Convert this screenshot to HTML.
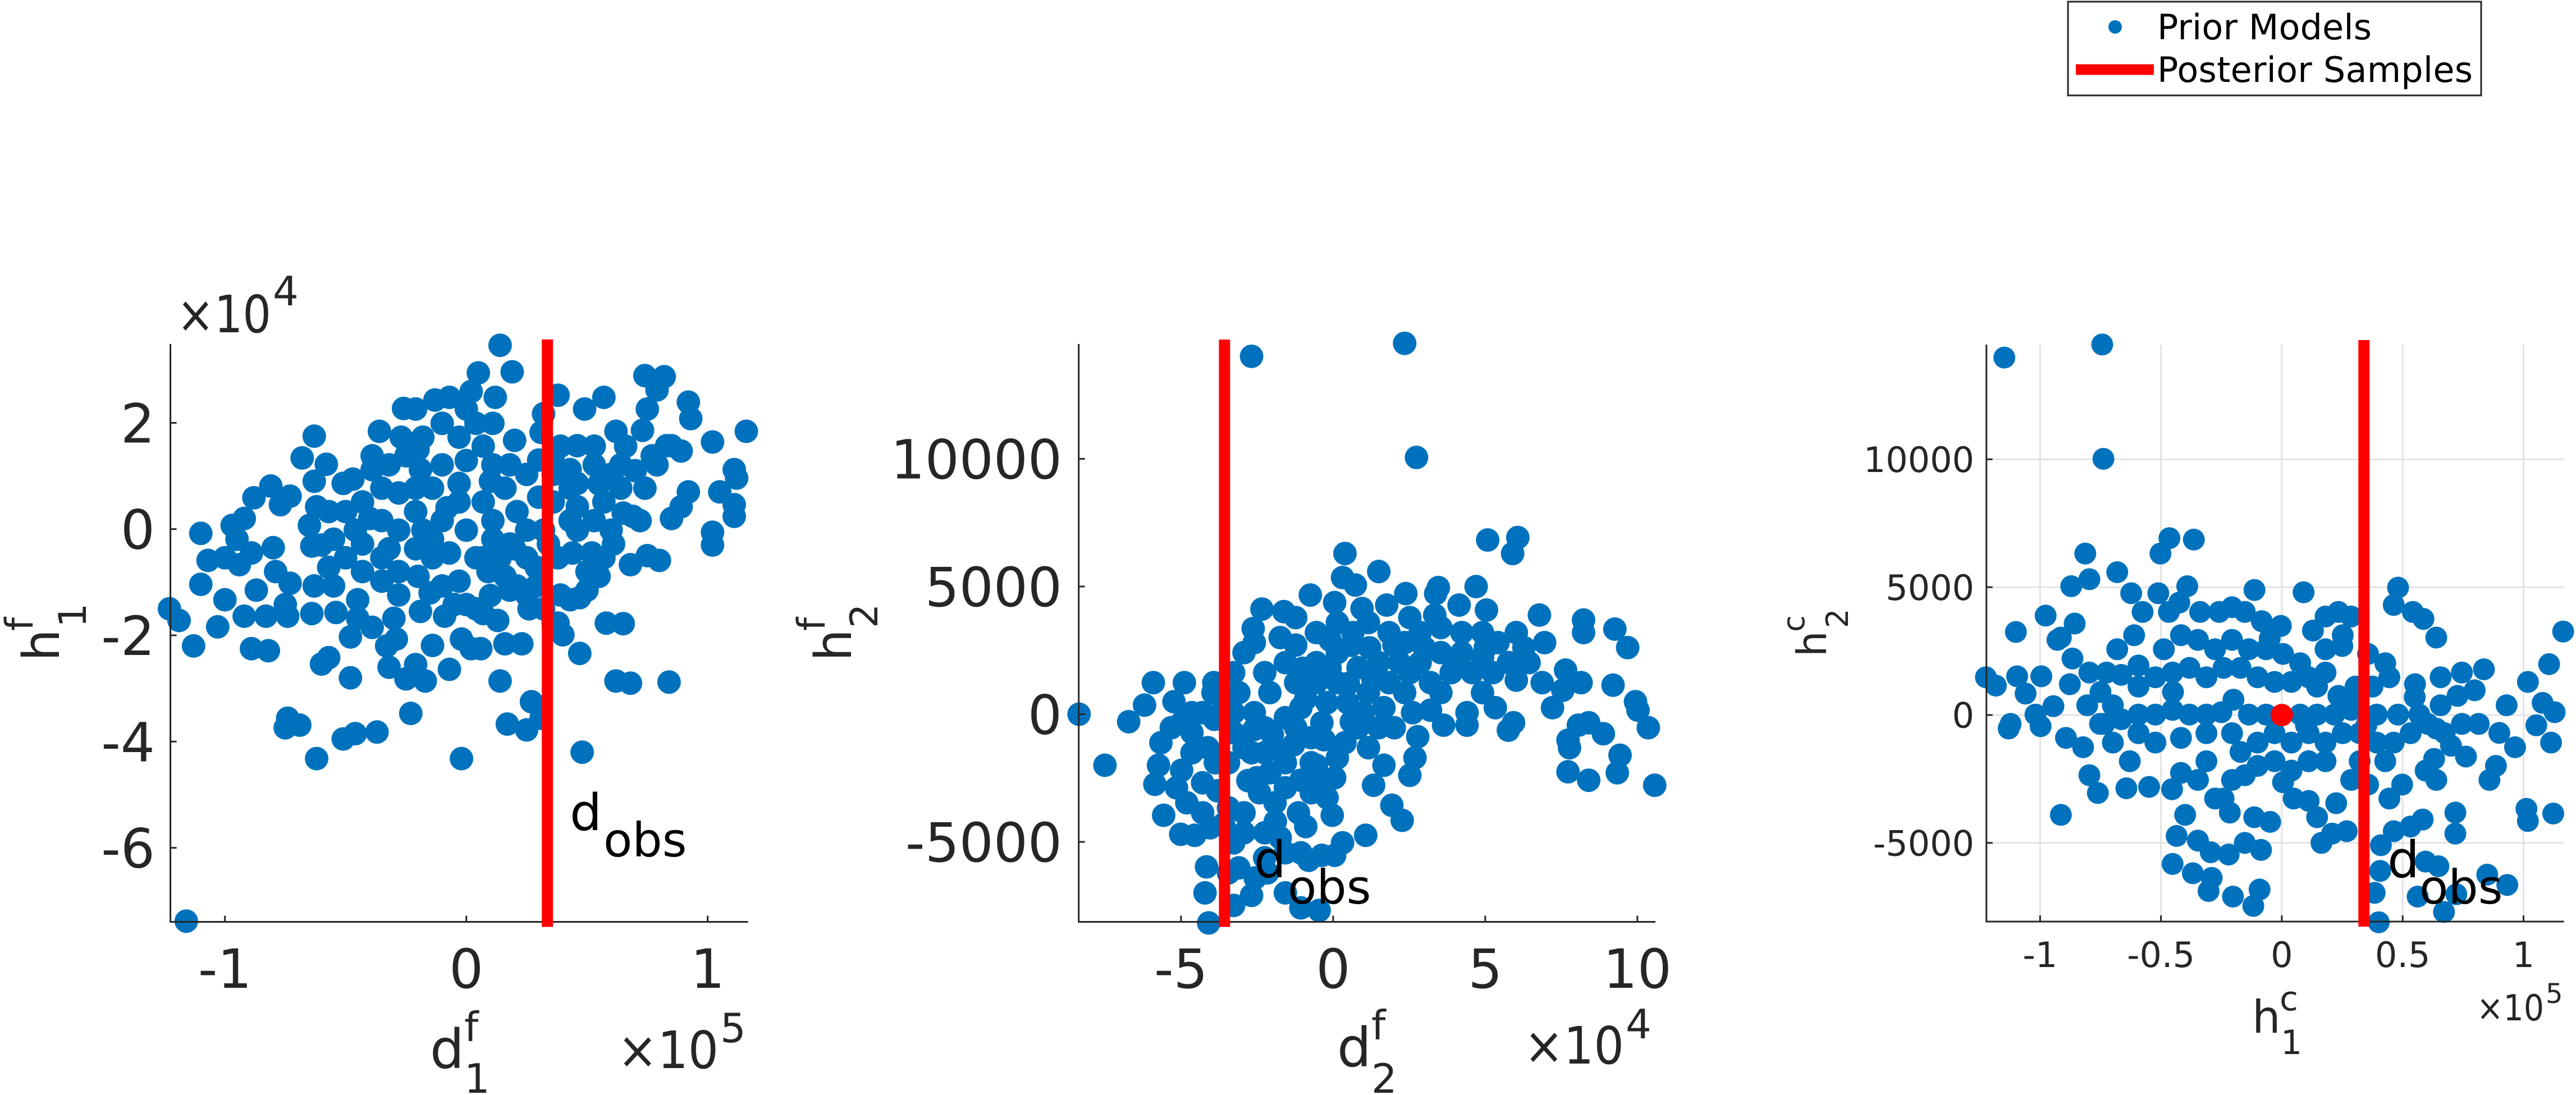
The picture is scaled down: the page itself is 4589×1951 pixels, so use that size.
<!DOCTYPE html>
<html><head><meta charset="utf-8"><style>
html,body{margin:0;padding:0;background:#fff;}
svg{display:block;font-family:"DejaVu Sans","Liberation Sans",sans-serif;}
</style></head><body>
<svg id="fig" xmlns="http://www.w3.org/2000/svg" width="4589" height="1951" viewBox="0 0 4589 1951">
<rect width="4589" height="1951" fill="#fff"/>
<g id="layer"></g>
<g>
<rect x="3684" y="3" width="736" height="167" fill="#fff" stroke="#262626" stroke-width="3"/>
<circle cx="3768" cy="48" r="12" fill="#0072bd"/>
<line x1="3698" y1="124" x2="3837" y2="124" stroke="#ff0000" stroke-width="19"/>
<text x="3843" y="70" font-size="62" textLength="382" fill="#000">Prior Models</text>
<text x="3843" y="146" font-size="62" textLength="562" fill="#000">Posterior Samples</text>
</g>
</svg>
<script>
// Panel 1: x = d1f (x1e5), y = h1f (x1e4)
const p1Pts=[[0.14,3.46],[0.19,2.96],[0.05,2.94],[0.02,2.59],[0.12,2.48],[0.38,2.52],[0.74,2.89],[0.82,2.87],[0.79,2.62],[0.75,2.26],[0.57,2.48],[0.49,2.26],[0.92,2.39],[0.93,2.08],[1.16,1.84],[1.02,1.64],[0.73,1.86],[0.62,1.84],[0.46,1.57],[0.32,2.17],[0.31,1.82],[0.20,1.67],[-0.26,2.27],[-0.21,2.26],[-0.13,2.43],[-0.07,2.48],[-0.10,1.99],[-0.36,1.84],[-0.63,1.75],[-0.68,1.34],[-0.58,1.22],[-0.27,1.73],[-0.39,1.38],[1.11,1.12],[1.12,0.96],[1.05,0.70],[1.11,0.46],[1.11,0.24],[0.92,0.70],[0.89,0.42],[0.85,0.20],[1.02,-0.06],[1.02,-0.30],[0.89,1.47],[0.83,1.57],[0.77,1.38],[0.79,1.21],[0.74,0.77],[0.72,0.16],[0.68,-0.67],[0.75,-0.50],[0.80,-0.59],[0.61,-0.28],[0.55,-0.89],[0.50,-1.15],[0.47,-1.29],[0.43,-1.33],[0.58,-1.77],[0.65,-1.78],[0.47,-2.34],[0.62,-2.86],[0.68,-2.90],[0.84,-2.88],[0.48,-4.20],[0.31,-3.56],[0.27,-3.25],[0.25,-3.78],[0.17,-3.67],[-0.02,-4.32],[0.14,-2.86],[0.23,-2.16],[0.16,-2.16],[0.40,-1.99],[0.38,-1.77],[0.32,-1.50],[0.26,-1.50],[0.18,-1.15],[0.13,-1.72],[0.06,-2.25],[0.02,-2.25],[-0.02,-2.07],[-0.07,-2.64],[-0.14,-2.19],[-0.17,-2.86],[-0.21,-2.55],[-0.25,-2.82],[-0.23,-3.47],[-0.32,-2.60],[-0.33,-2.20],[-0.29,-2.07],[-0.30,-1.68],[-0.39,-1.85],[-0.45,-1.68],[-0.48,-2.03],[-0.48,-2.80],[-0.60,-2.54],[-0.57,-2.42],[-0.37,-3.82],[-0.46,-3.85],[-0.51,-3.95],[-0.62,-4.32],[-0.69,-3.69],[-0.75,-3.74],[-0.74,-3.56],[-0.82,-2.29],[-0.89,-2.25],[-1.03,-1.84],[-1.13,-2.20],[-1.19,-1.72],[-1.23,-1.50],[-1.16,-7.38],[-1.10,-0.08],[-1.10,-1.04],[-1.07,-0.59],[-1.00,-0.54],[-0.94,-0.67],[-1.00,-1.33],[-0.92,-1.64],[-0.87,-1.15],[-0.83,-1.64],[-0.74,-1.64],[-0.64,-1.59],[-0.54,-1.57],[-0.45,-1.33],[-0.55,-1.07],[-0.63,-1.07],[-0.75,-1.42],[-0.79,-0.80],[-0.73,-1.02],[-0.80,-0.35],[-0.89,-0.45],[-0.95,-0.19],[-0.97,0.07],[-0.92,0.20],[-0.88,0.59],[-0.81,0.81],[-0.73,0.62],[-0.77,0.46],[-0.64,-0.32],[-0.57,-0.72],[-0.65,0.07],[-0.62,0.42],[-0.63,0.90],[-0.51,0.86],[-0.47,0.94],[-0.55,-0.19],[-0.43,-0.28],[-0.35,-0.54],[-0.28,-0.80],[-0.20,-0.89],[-0.10,-1.07],[-0.03,-0.98],[0.00,-1.42],[-0.05,-1.42],[-0.19,-1.55],[-0.09,-1.64],[0.04,-1.50],[0.07,-1.59],[0.09,-0.80],[0.16,-0.89],[0.21,-1.07],[0.29,-0.72],[0.29,-1.07],[0.38,-0.54],[0.44,-0.45],[0.52,-0.45],[0.46,-0.02],[0.60,-0.02],[0.69,0.24],[0.64,0.77],[0.64,1.21],[0.53,1.21],[0.43,1.12],[0.53,1.56],[0.43,0.77],[0.36,0.51],[0.43,0.16],[0.34,-0.28],[0.25,-0.02],[0.18,-0.28],[0.11,-0.19],[0.04,-0.54],[-0.07,-0.45],[-0.14,-0.19],[-0.10,0.16],[-0.03,0.51],[0.07,0.51],[0.16,0.77],[0.25,1.03],[0.18,1.21],[0.11,1.21],[0.00,1.29],[-0.03,0.86],[-0.10,1.21],[-0.19,1.12],[-0.25,1.38],[-0.32,1.21],[-0.39,1.12],[-0.28,0.68],[-0.21,0.77],[-0.14,0.77],[-0.35,0.77],[-0.43,0.51],[-0.50,0.33],[-0.57,0.33],[-0.46,-0.02],[-0.35,0.16],[-0.28,-0.02],[-0.21,0.33],[-0.18,-0.02],[-0.32,-0.37],[-0.21,-0.37],[-0.14,-0.54],[-0.50,-0.54],[-0.43,-0.80],[-0.35,-0.98],[-0.28,-1.24],[-0.25,1.64],[-0.18,1.73],[-0.03,1.73],[0.04,1.99],[0.07,1.56],[0.00,2.26],[0.11,1.99],[0.36,1.38],[0.36,1.03],[0.46,0.86],[0.57,0.51],[0.53,0.16],[0.60,1.03],[0.39,1.56],[0.66,1.56],[0.85,1.57],[0.46,0.42],[0.21,0.33],[0.11,0.16],[0.00,-0.02],[0.07,-0.54],[0.14,-0.54],[0.25,-0.54],[0.32,-0.02],[0.20,-0.37],[0.57,-0.54],[0.50,-0.80],[0.25,-1.24],[0.39,-1.24],[0.36,-1.77],[0.30,0.60],[0.10,0.90],[-0.08,0.40],[-0.40,0.20],[-0.20,1.50],[0.55,0.85],[0.70,1.10],[0.65,0.30],[0.30,1.30],[-0.60,-0.30],[-0.15,-1.20],[0.10,-1.25]];
const p1XTicks=[-1,0,1];
const p1XTickLabels=["-1","0","1"];
const p1YTicks=[2,0,-2,-4,-6];
const p1YTickLabels=["2","0","-2","-4","-6"];
const p1Obs=[0.336];

// Panel 2: x = d2f (x1e4), y = h2f
const p2Pts=[[-8.35,0],[-7.5,-2000],[-6.72,-294],[-6.2,353],[-5.91,1235],[-4.89,1235],[-5.23,490],[-5.86,-2744],[-5.57,-3959],[-5.01,-4704],[-4.55,-4743],[-4.16,-5978],[-4.21,-6997],[-4.09,-8173],[-5.74,-2000],[-4.98,-2195],[-4.81,-3469],[-4.29,-2685],[-5.66,-1117],[-5.32,-529],[-4.64,-725],[-4.29,59],[-3.95,843],[-3.92,1235],[-4.12,-1313],[-3.87,-1901],[-4.29,-3861],[-4.04,-4449],[-3.44,-3665],[-3.27,-5037],[-3.10,-6017],[-3.27,-7487],[-2.68,-7095],[-2.16,-6213],[-2.56,-6409],[-2.93,-3861],[-2.51,-2489],[-2.68,-1509],[-3.27,-725],[-3.27,59],[-3.10,843],[-3.27,1627],[-2.93,2411],[-2.59,2803],[-2.63,3352],[-2.34,4116],[-2.68,14014],[2.35,14524],[2.74,10055],[-1.62,4018],[-1.23,3783],[-0.75,4665],[0.05,4371],[0.39,6292],[0.31,5351],[0.73,5057],[1.50,5586],[2.39,4724],[3.46,4959],[3.37,4724],[4.70,4998],[5.08,6821],[6.07,6919],[5.90,6292],[5.04,4077],[4.14,4273],[3.34,3881],[2.52,3783],[1.76,4273],[0.95,4136],[6.78,3881],[6.02,3195],[6.95,2803],[8.23,3685],[8.23,3195],[9.26,3332],[9.68,2607],[7.64,1725],[8.15,1235],[9.20,1137],[9.94,490],[10.02,157],[10.36,-529],[7.72,-1019],[7.77,-1313],[8.06,-431],[8.40,-333],[8.88,-764],[7.72,-2254],[8.40,-2587],[9.43,-1607],[9.34,-2293],[10.57,-2783],[7.21,255],[7.55,941],[6.87,1235],[6.02,1333],[5.93,-333],[5.76,-627],[5.33,255],[4.40,59],[4.40,-431],[3.63,-431],[3.20,157],[2.61,59],[2.78,-882],[2.69,-1705],[2.52,-2391],[2.27,-4155],[1.93,-3567],[1.67,-2000],[1.33,-2783],[1.07,-4743],[0.31,-5037],[0.05,-5527],[-0.37,-5527],[-0.03,-3959],[-0.20,-3273],[0.05,-2489],[0.14,-1705],[0.39,-1117],[-0.72,-921],[-0.55,-2000],[-1.14,-3861],[-0.80,-5723],[-0.46,-7683],[-1.06,-7585],[-1.57,-6997],[-1.06,-5429],[-1.74,-4841],[-2.25,-4645],[-1.91,-3469],[-1.06,-2587],[-2.08,-2293],[-1.91,-1313],[-1.57,-137],[-1.06,255],[-2.08,843],[-2.25,1627],[-1.57,2019],[-1.74,2999],[-1.23,2705],[-0.55,3195],[0.14,3587],[-0.55,2019],[0.14,2411],[0.65,3195],[1.16,3587],[1.84,3195],[2.35,2803],[2.86,3195],[3.54,3391],[4.23,3195],[4.91,3195],[5.42,2803],[6.27,2607],[6.44,2019],[5.76,2019],[4.91,2215],[4.23,2411],[3.54,2411],[2.86,2019],[2.18,2019],[1.50,2019],[0.82,1823],[0.14,1235],[-0.55,1235],[-1.23,1235],[-0.20,451],[0.48,451],[1.16,843],[1.84,1235],[2.52,1627],[3.20,1235],[3.88,1627],[4.57,1627],[5.25,1627],[4.91,843],[3.54,843],[2.35,843],[1.67,255],[0.99,59],[0.82,-529],[1.50,-529],[2.01,-529],[1.16,-1313],[-0.37,-333],[-1.23,-529],[-2.25,-529],[-2.59,59],[-2.93,-1313],[-3.44,-1901],[-2.25,-1509],[-1.57,-1901],[-0.72,-1901],[-2.42,-3077],[-1.57,-2881],[-0.72,-3077],[-2.93,-4645],[-2.25,-5625],[-1.57,-5429],[-3.44,-6213],[-4.98,-333],[-4.64,-1509],[-5.15,-2881],[-4.64,59],[-3.61,451],[-2.0,-800],[-1.3,-1200],[-0.3,-1000],[-2.8,-2600],[-1.9,-4200],[-0.9,-4400],[-3.8,-3000],[-3.6,-4300],[-0.9,600],[-0.1,2900],[0.6,2700],[1.2,2600],[2.0,2700],[3.0,2600],[4.0,2000],[5.0,2600],[-0.4,-2600],[0.6,-300],[-2.6,-600],[-3.9,-200],[-1.0,1800],[-0.1,1800],[0.5,1200],[1.3,1400]];
const p2XTicks=[-5,0,5,10];
const p2XTickLabels=["-5","0","5","10"];
const p2YTicks=[10000,5000,0,-5000];
const p2YTickLabels=["10000","5000","0","-5000"];
const p2Obs=[-3.57];

// Panel 3: x = h1c (x1e5), y = h2c
const p3Pts=[[-1.148,13980],[-0.743,14490],[-0.738,10020],[-0.465,6917],[-0.364,6862],[-0.502,6315],[-0.813,6315],[-0.796,5311],[-0.681,5585],[-0.871,5037],[-0.623,4763],[-0.511,4763],[-0.391,5037],[-0.113,4891],[0.090,4800],[0.481,4982],[0.463,4307],[0.542,4033],[0.586,3760],[0.639,3030],[1.164,3267],[1.106,1989],[1.018,1296],[1.079,475],[1.129,110],[1.053,-402],[1.114,-1077],[0.965,-1259],[0.930,383],[0.836,1789],[0.798,967],[0.745,1661],[0.886,-1989],[0.859,-2537],[0.718,-3814],[0.718,-4636],[1.012,-3668],[1.018,-4143],[1.123,-3851],[0.933,-6643],[0.850,-6242],[0.722,-7008],[0.671,-7702],[0.562,-7100],[0.595,-5731],[0.648,-5913],[0.583,-4088],[0.533,-4362],[0.463,-4544],[0.410,-5092],[0.407,-6096],[0.384,-6953],[0.401,-8103],[0.630,-1716],[0.595,-2172],[0.639,-2537],[0.269,-4544],[0.164,-5001],[0.208,-4636],[0.225,-3449],[0.111,-3358],[0.146,-3997],[0.049,-3267],[0.005,-2628],[-0.048,-4179],[-0.114,-3997],[-0.086,-5274],[-0.092,-6825],[-0.118,-7464],[-0.202,-7100],[-0.290,-6369],[-0.303,-6880],[-0.368,-6187],[-0.452,-5822],[-0.435,-4727],[-0.347,-4909],[-0.294,-5366],[-0.220,-5457],[-0.153,-5001],[-0.215,-3814],[-0.241,-3267],[-0.400,-3905],[-0.454,-2902],[-0.417,-2263],[-0.549,-2810],[-0.643,-2865],[-0.761,-3048],[-0.796,-2354],[-0.914,-3905],[-0.822,-1259],[-0.893,-894],[-0.998,-438],[-1.019,18],[-1.130,-529],[-1.122,-347],[-1.060,839],[-1.095,1515],[-1.183,1150],[-1.224,1478],[-0.995,1515],[-0.945,347],[-0.977,3887],[-1.100,3249],[-0.928,2938],[-0.857,3577],[-0.914,3030],[-0.866,2208],[-0.877,1205],[-0.796,1661],[-0.725,1661],[-0.664,1570],[-0.681,2573],[-0.593,1935],[-0.611,3121],[-0.576,4033],[-0.467,4033],[-0.424,4398],[-0.338,4033],[-0.259,4033],[-0.206,4216],[-0.153,4033],[-0.083,3669],[-0.004,3486],[0.129,3304],[0.181,3851],[0.234,4033],[0.287,3851],[0.252,3121],[0.181,2573],[0.357,2391],[0.428,2026],[0.375,1113],[0.445,1478],[0.551,1205],[0.657,1478],[0.727,748],[0.657,383],[0.569,18],[0.481,18],[0.393,18],[0.305,1113],[0.287,201],[0.234,748],[0.146,1113],[0.076,2026],[0.005,2391],[-0.065,2573],[-0.136,2573],[-0.206,2938],[-0.276,2573],[-0.347,2938],[-0.417,3121],[-0.488,2573],[-0.523,1478],[-0.593,1113],[-0.452,1661],[-0.382,1843],[-0.312,1478],[-0.241,1843],[-0.171,1843],[-0.100,1478],[-0.030,1296],[0.040,1296],[0.111,1478],[0.181,1661],[0.217,18],[0.146,18],[0.076,18],[-0.065,18],[-0.136,18],[-0.250,110],[-0.312,18],[-0.382,18],[-0.452,201],[-0.523,18],[-0.593,18],[-0.664,-164],[-0.734,-347],[-0.699,383],[-0.805,383],[-0.593,-712],[-0.523,-1077],[-0.417,-894],[-0.312,-712],[-0.206,-712],[-0.171,-1442],[-0.100,-1077],[-0.030,-712],[0.040,-1077],[0.111,-712],[0.181,-1077],[0.252,-712],[0.322,-712],[0.393,-1077],[0.463,-1077],[0.533,-712],[0.604,-347],[0.674,-712],[0.745,-347],[0.815,-347],[0.762,-1624],[0.639,-529],[-0.100,-1989],[-0.030,-1807],[0.040,-2172],[0.111,-1807],[0.181,-1807],[0.322,-1807],[0.428,-1807],[0.498,-2719],[0.445,-3267],[0.357,-2719],[0.287,-2537],[-0.312,-1807],[-0.347,-2537],[-0.276,-3267],[-0.206,-2537],[-0.153,-2354],[-0.629,-1807],[-0.699,-1077],[-0.752,-347],[0.35,-400],[0.10,-400],[-0.20,600],[0.30,600],[0.55,700],[-0.45,900],[-0.75,900],[0.70,-1200],[0.90,-700],[0.25,2700],[-0.05,3000]];
const p3True=[[0,0]];
const p3XTicks=[-1,-0.5,0,0.5,1];
const p3XTickLabels=["-1","-0.5","0","0.5","1"];
const p3YTicks=[10000,5000,0,-5000];
const p3YTickLabels=["10000","5000","0","-5000"];
const p3Obs=[0.34];

const NS="http://www.w3.org/2000/svg";
const layer=document.getElementById('layer');
function mk(tag,attrs,parent){const e=document.createElementNS(NS,tag);for(const k in attrs)e.setAttribute(k,attrs[k]);(parent||layer).appendChild(e);return e;}
function txt(str,attrs,parent){const e=mk('text',attrs,parent);e.textContent=str;return e;}

function panel(cfg){
  const g=mk('g',{});
  
  
  const sx=v=>cfg.x0+v*cfg.kx, sy=v=>cfg.y0-v*cfg.ky;
  if(cfg.grid){
    cfg.xt.forEach(t=>{const l=mk('line',{x1:sx(t),x2:sx(t),y1:cfg.top,y2:cfg.bot,stroke:'#e3e3e3','stroke-width':3},g);
      
      });
    cfg.yt.forEach(t=>{const l=mk('line',{x1:cfg.left,x2:cfg.right,y1:sy(t),y2:sy(t),stroke:'#e3e3e3','stroke-width':3},g);
      
      });
  }
  const pts=mk('g',{fill:'#0072bd'},g);
  
  
  cfg.pts.forEach(p=>{const c=mk('circle',{cx:sx(p[0]).toFixed(1),cy:sy(p[1]).toFixed(1),r:cfg.r},pts);
    
    });
  if(cfg.truePts){cfg.truePts.forEach(p=>{const c=mk('circle',{cx:sx(p[0]),cy:sy(p[1]),r:20,fill:'#ff0000'},g);
    
    });}
  const ax=mk('path',{d:`M${cfg.left},${cfg.top}V${cfg.bot}H${cfg.right}`,fill:'none',stroke:'#262626','stroke-width':3},g);
  
  
  cfg.xt.forEach((t,i)=>{mk('line',{x1:sx(t),x2:sx(t),y1:cfg.bot,y2:cfg.bot-11,stroke:'#262626','stroke-width':3},g);
    const tl=txt(cfg.xl[i],{x:sx(t),y:cfg.xtb,'font-size':cfg.fs,'text-anchor':'middle',fill:'#262626'},g);
    
    });
  cfg.yt.forEach((t,i)=>{mk('line',{x1:cfg.left,x2:cfg.left+11,y1:sy(t),y2:sy(t),stroke:'#262626','stroke-width':3},g);
    const tl=txt(cfg.yl[i],{x:cfg.ytx,y:sy(t)+cfg.fs*0.365,'font-size':cfg.fs,'text-anchor':'end',fill:'#262626'},g);
    
    });
  cfg.obs.forEach(o=>{const l=mk('line',{x1:sx(o),x2:sx(o),y1:cfg.top-8,y2:cfg.bot+9,stroke:'#ff0000','stroke-width':20},g);
    
    });
  const d=txt('d',{x:cfg.dx,y:cfg.dy,'font-size':90,fill:'#000'},g);
  
  
  const ob=txt('obs',{x:cfg.ox,y:cfg.dy+47,'font-size':84,fill:'#000'},g);
  
  
  return g;
}

panel({name:'panel-d1f-h1f',pts:p1Pts,x0:830.7,kx:430,y0:942.7,ky:94.65,left:303.6,right:1332.6,top:612.7,bot:1642.5,
  xt:p1XTicks,xl:p1XTickLabels,yt:p1YTicks,yl:p1YTickLabels,fs:96,xtb:1760,ytx:276,r:21,obs:p1Obs,dx:1015,dy:1479,ox:1075});
panel({name:'panel-d2f-h2f',pts:p2Pts,x0:2374.9,kx:54.2,y0:1272.5,ky:0.0455,left:1921.7,right:2949,top:613,bot:1642.5,
  xt:p2XTicks,xl:p2XTickLabels,yt:p2YTicks,yl:p2YTickLabels,fs:96,xtb:1760,ytx:1892,r:21,obs:p2Obs,dx:2234,dy:1563,ox:2294});
panel({name:'panel-h1c-h2c',pts:p3Pts,truePts:p3True,grid:true,x0:4064.9,kx:430.6,y0:1274,ky:0.04556,left:3538.7,right:4567.6,top:614,bot:1642,
  xt:p3XTicks,xl:p3XTickLabels,yt:p3YTicks,yl:p3YTickLabels,fs:62,xtb:1723,ytx:3517,r:19.5,obs:p3Obs,dx:4253,dy:1563,ox:4310});
</script>
<svg style="position:absolute;left:0;top:0" width="4589" height="1951" viewBox="0 0 4589 1951" font-family="DejaVu Sans, Liberation Sans, sans-serif" fill="#262626">
<g><text x="766" y="1903" font-size="96">d</text><text x="827" y="1855" font-size="72">f</text><text x="827" y="1947" font-size="72">1</text></g>
<g><text x="1100" y="1903" font-size="92" textLength="180" lengthAdjust="spacingAndGlyphs">×10</text><text x="1283" y="1857" font-size="72">5</text></g>
<g><text x="315" y="592" font-size="92" textLength="168" lengthAdjust="spacingAndGlyphs">×10</text><text x="486" y="544" font-size="72">4</text></g>
<g><text transform="translate(105,1178) rotate(-90)" font-size="90">h</text><text transform="translate(153,1118) rotate(-90)" font-size="68">1</text><text transform="translate(58,1124) rotate(-90)" font-size="68">f</text></g>
<g><text x="2382" y="1900" font-size="96">d</text><text x="2443" y="1852" font-size="72">f</text><text x="2443" y="1947" font-size="72">2</text></g>
<g><text x="2715" y="1895" font-size="92" textLength="178" lengthAdjust="spacingAndGlyphs">×10</text><text x="2896" y="1850" font-size="72">4</text></g>
<g><text transform="translate(1516,1178) rotate(-90)" font-size="90">h</text><text transform="translate(1563,1119) rotate(-90)" font-size="68">2</text><text transform="translate(1469,1124) rotate(-90)" font-size="68">f</text></g>
<g><text x="4012" y="1840" font-size="80">h</text><text x="4061" y="1800" font-size="60">c</text><text x="4063" y="1878" font-size="60">1</text></g>
<g><text x="4412" y="1818" font-size="64" textLength="120" lengthAdjust="spacingAndGlyphs">×10</text><text x="4535" y="1787" font-size="48">5</text></g>
<g><text transform="translate(3253,1170) rotate(-90)" font-size="72">h</text><text transform="translate(3292,1119) rotate(-90)" font-size="54">2</text><text transform="translate(3214,1126) rotate(-90)" font-size="54">c</text></g>
</svg>
</body></html>
